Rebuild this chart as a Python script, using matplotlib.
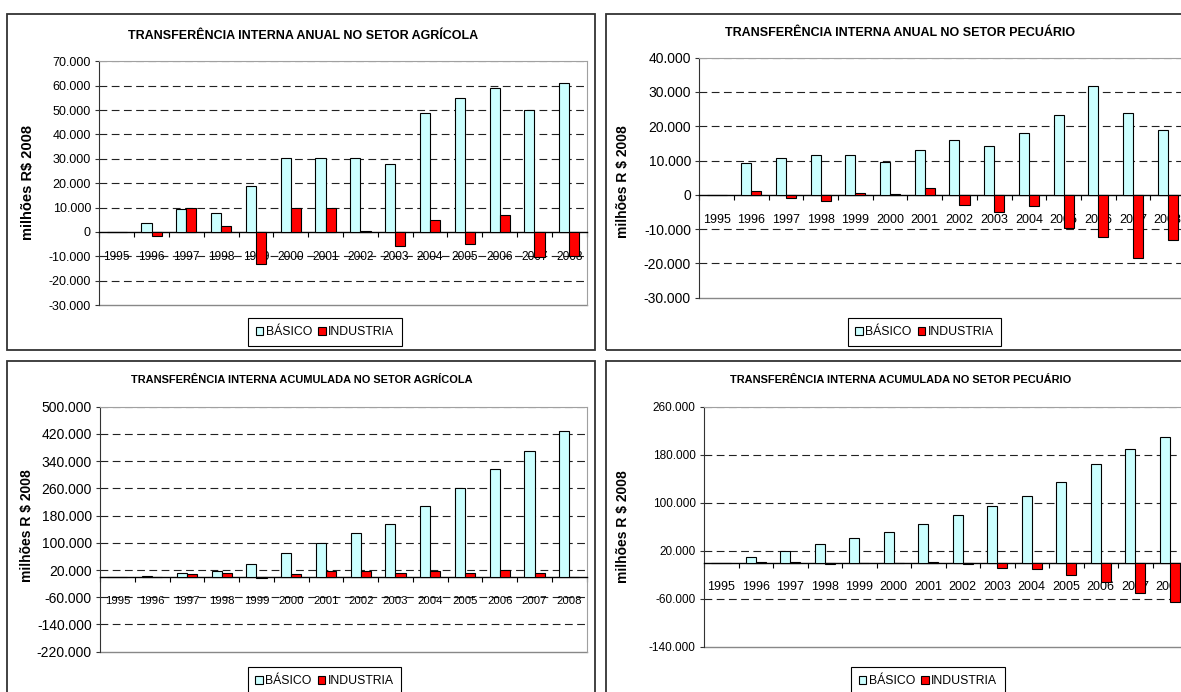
import matplotlib.pyplot as plt
import numpy as np
from matplotlib.patches import Patch, Rectangle
from matplotlib.ticker import FuncFormatter, FixedLocator, FixedFormatter, NullFormatter

plt.rcParams["font.family"] = ["Liberation Sans", "DejaVu Sans"]

anos = ["1995", "1996", "1997", "1998", "1999", "2000", "2001",
        "2002", "2003", "2004", "2005", "2006", "2007", "2008"]

# valores em milhoes R$ 2008
agri_anual_basico = [0, 3500, 9300, 7900, 18900, 30500, 30500, 30500, 28000, 48700, 55100, 59000, 50200, 61000]
agri_anual_ind = [0, -1500, 10000, 2500, -13300, 9700, 10000, 500, -5600, 4800, -5100, 7100, -10400, -9900]

pec_anual_basico = [0, 9400, 10700, 11500, 11500, 9700, 13100, 15900, 14200, 18000, 23400, 31700, 24000, 18900]
pec_anual_ind = [0, 1200, -800, -1750, 400, 300, 2100, -2900, -5100, -3200, -9700, -12400, -18500, -13100]

agri_acum_basico = [0, 3000, 11000, 18000, 38000, 70000, 100000, 128000, 156000, 207000, 260000, 318000, 370000, 430000]
agri_acum_ind = [0, -1500, 8000, 11000, -2000, 7000, 18000, 18000, 12000, 17000, 12000, 20000, 10000, -1000]

pec_acum_basico = [0, 10000, 20000, 32000, 42000, 51000, 65000, 80000, 95000, 112000, 134000, 165000, 190000, 209000]
pec_acum_ind = [0, 1000, 500, -1500, -1000, -700, 500, -1500, -8000, -11000, -21000, -32000, -51000, -65000]

W, H = 1181, 692
fig = plt.figure(figsize=(W / 100, H / 100), dpi=100)


def px_rect(x0, y0, x1, y1):
    # pixel box (top-left origin) -> figure fraction
    return [x0 / W, 1 - y1 / H, (x1 - x0) / W, (y1 - y0) / H]


def milhar(v, pos):
    return f"{int(round(v)):,}".replace(",", ".")


def painel(box, area, titulo, titulo_xy, titulo_fs, basico, industria, yticks,
           ytick_fs, xtick_fs, ylab, ylab_xy, ylab_fs, leg_xy):
    # moldura do grafico
    fig.patches.append(Rectangle((box[0] / W, 1 - box[3] / H), (box[2] - box[0]) / W,
                                 (box[3] - box[1]) / H, transform=fig.transFigure,
                                 fill=False, edgecolor="#333333", lw=1.3))
    ax = fig.add_axes(px_rect(*area))
    x = np.arange(len(anos))
    w = 0.29
    ax.bar(x - w / 2, basico, w, color="#CCFFFF", edgecolor="black", lw=0.8, zorder=3)
    ax.bar(x + w / 2, industria, w, color="#FF0000", edgecolor="black", lw=0.8, zorder=3)
    ax.set_xlim(-0.5, len(anos) - 0.5)
    ax.set_ylim(yticks[0], yticks[-1])

    for t in yticks[1:]:
        if t != 0:
            ax.axhline(t, color="#222222", lw=0.8, dashes=(7, 4), zorder=1)
    ax.axhline(yticks[0], color="#888888", lw=1.0, clip_on=False, zorder=2)

    ax.spines["bottom"].set_position(("data", 0))
    ax.spines["bottom"].set_color("black")
    ax.spines["bottom"].set_linewidth(1.0)
    ax.spines["left"].set_color("#333333")
    ax.spines["top"].set_color("#A0A0A0")
    ax.spines["right"].set_color("#A0A0A0")

    ax.set_yticks(yticks)
    ax.yaxis.set_major_formatter(FuncFormatter(milhar))
    ax.tick_params(axis="y", direction="out", length=3, width=0.8, pad=3,
                   labelsize=ytick_fs, color="#333333")

    ax.xaxis.set_major_locator(FixedLocator(np.arange(-0.5, len(anos), 1)))
    ax.xaxis.set_major_formatter(NullFormatter())
    ax.xaxis.set_minor_locator(FixedLocator(x))
    ax.xaxis.set_minor_formatter(FixedFormatter(anos))
    ax.tick_params(axis="x", which="major", direction="out", length=3.5, width=0.8)
    ax.tick_params(axis="x", which="minor", length=0, pad=13.5, labelsize=xtick_fs)

    fig.text(titulo_xy[0] / W, 1 - titulo_xy[1] / H, titulo, ha="center", va="center",
             fontsize=titulo_fs, weight="bold")
    fig.text(ylab_xy[0] / W, 1 - ylab_xy[1] / H, ylab, rotation=90, ha="center",
             va="center", fontsize=ylab_fs, weight="bold")

    handles = [Patch(facecolor="#CCFFFF", edgecolor="black", lw=0.8),
               Patch(facecolor="#FF0000", edgecolor="black", lw=0.8)]
    leg = ax.legend(handles, ["BÁSICO", "INDUSTRIA"], loc="upper center",
                    bbox_to_anchor=(leg_xy[0] / W, 1 - leg_xy[1] / H),
                    bbox_transform=fig.transFigure, ncol=2, fontsize=8.8,
                    frameon=True, fancybox=False, edgecolor="black", framealpha=1,
                    borderpad=0.65, borderaxespad=0, handlelength=0.6,
                    handleheight=0.6, handletextpad=0.2, columnspacing=0.5)
    leg.get_frame().set_linewidth(0.8)
    return ax


painel((7.3, 14, 595, 349.7), (99.3, 61.3, 586.7, 305),
       "TRANSFERÊNCIA INTERNA ANUAL NO SETOR AGRÍCOLA", (303.3, 36), 9,
       agri_anual_basico, agri_anual_ind, list(range(-30000, 70001, 10000)),
       9, 8.6, "milhões R$ 2008", (28, 182.5), 10.5, (325, 318))

painel((605.7, 14, 1195, 349.7), (699.3, 57.7, 1185, 297.7),
       "TRANSFERÊNCIA INTERNA ANUAL NO SETOR PECUÁRIO", (900.5, 33.3), 9,
       pec_anual_basico, pec_anual_ind, list(range(-30000, 40001, 10000)),
       10, 9, "milhões R $ 2008", (623.3, 182), 10, (924.5, 318))

painel((7.3, 360.7, 595, 700), (100, 406.7, 586.7, 651.7),
       "TRANSFERÊNCIA INTERNA ACUMULADA NO SETOR AGRÍCOLA", (302, 380), 7.9,
       agri_acum_basico, agri_acum_ind, list(range(-220000, 500001, 80000)),
       10, 8.2, "milhões R $ 2008", (26.7, 526), 10, (324.5, 667))

painel((605.7, 360.7, 1195, 700), (704, 406.7, 1187, 646.7),
       "TRANSFERÊNCIA INTERNA ACUMULADA NO SETOR PECUÁRIO", (900.5, 380), 7.9,
       pec_acum_basico, pec_acum_ind, list(range(-140000, 260001, 80000)),
       8.5, 9, "milhões R $ 2008", (623.3, 527), 10, (928, 667))

fig.savefig("out.png", dpi=100)
